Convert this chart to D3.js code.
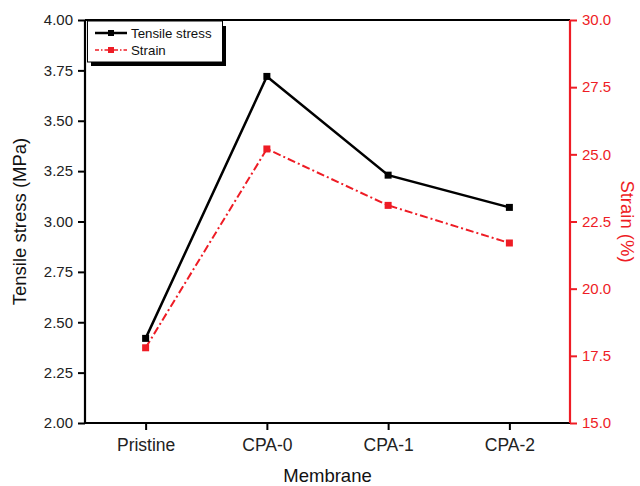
<!DOCTYPE html>
<html><head><meta charset="utf-8">
<script src="https://cdn.jsdelivr.net/npm/d3@7"></script>
<style>body{margin:0;background:#fff}svg{display:block}text{font-family:"Liberation Sans",Arial,sans-serif}</style>
</head><body>
<svg id="c" width="640" height="486"></svg>
<script>
const categories = ["Pristine","CPA-0","CPA-1","CPA-2"];
const tensileStress = [2.42, 3.72, 3.23, 3.07];
const strain = [17.8, 25.2, 23.1, 21.7];
const leftTicks = [2.00,2.25,2.50,2.75,3.00,3.25,3.50,3.75,4.00];
const rightTicks = [15.0,17.5,20.0,22.5,25.0,27.5,30.0];
const seriesNames = ["Tensile stress","Strain"];

const svg = d3.select("#c");
const L=85, R=570, T=20, B=423;
const x = d3.scalePoint().domain(categories).range([L,R]).padding(0.5);
const yL = d3.scaleLinear().domain([2,4]).range([B,T]);
const yR = d3.scaleLinear().domain([15,30]).range([B,T]);
const red = "#ee1c25";

// top frame
svg.append("line").attr("x1",L).attr("x2",R).attr("y1",T).attr("y2",T).attr("stroke","#000").attr("stroke-width",2);

const gl = svg.append("g").attr("transform",`translate(${L},0)`)
  .call(d3.axisLeft(yL).tickValues(leftTicks).tickFormat(d3.format(".2f")).tickSize(7).tickPadding(5));
const gb = svg.append("g").attr("transform",`translate(0,${B})`)
  .call(d3.axisBottom(x).tickSize(7).tickPadding(9));
const gr = svg.append("g").attr("transform",`translate(${R},0)`)
  .call(d3.axisRight(yR).tickValues(rightTicks).tickFormat(d3.format(".1f")).tickSize(7).tickPadding(5));

[gl,gb].forEach(g=>{
  g.select(".domain").attr("stroke","#000").attr("stroke-width",2.2);
  g.selectAll(".tick line").attr("stroke","#000").attr("stroke-width",2);
  g.selectAll(".tick text").attr("fill","#222").style("font-size","15px");
});
gb.selectAll(".tick text").style("font-size","17.5px");
gl.select(".domain").attr("d",`M-0,${B}V${T}`);
gb.select(".domain").attr("d",`M${L},0H${R}`);
gr.select(".domain").attr("stroke",red).attr("stroke-width",2.2).attr("d",`M0,${B}V${T}`);
gr.selectAll(".tick line").attr("stroke",red).attr("stroke-width",2);
gr.selectAll(".tick text").attr("fill",red).style("font-size","15px");

// axis titles
svg.append("text").attr("transform",`translate(26,${(T+B)/2}) rotate(-90)`).attr("text-anchor","middle")
  .style("font-size","18.5px").attr("fill","#111").text("Tensile stress (MPa)");
svg.append("text").attr("x",(L+R)/2).attr("y",482).attr("text-anchor","middle")
  .style("font-size","18.5px").attr("fill","#111").text("Membrane");
svg.append("text").attr("transform",`translate(621,${(T+B)/2}) rotate(90)`).attr("text-anchor","middle")
  .style("font-size","18.5px").attr("fill",red).text("Strain (%)");

// series
const lineL = d3.line().x((d,i)=>x(categories[i])).y(d=>yL(d));
const lineR = d3.line().x((d,i)=>x(categories[i])).y(d=>yR(d));
svg.append("path").attr("d",lineL(tensileStress)).attr("fill","none").attr("stroke","#000").attr("stroke-width",2.5);
svg.append("path").attr("d",lineR(strain)).attr("fill","none").attr("stroke",red).attr("stroke-width",2)
  .attr("stroke-dasharray","8,3,2,3");
const ms=7;
svg.selectAll(".mL").data(tensileStress).enter().append("rect")
  .attr("x",(d,i)=>x(categories[i])-ms/2).attr("y",d=>yL(d)-ms/2).attr("width",ms).attr("height",ms).attr("fill","#000");
svg.selectAll(".mR").data(strain).enter().append("rect")
  .attr("x",(d,i)=>x(categories[i])-ms/2).attr("y",d=>yR(d)-ms/2).attr("width",ms).attr("height",ms).attr("fill",red);

// legend
const lg = svg.append("g");
lg.append("rect").attr("x",91).attr("y",26).attr("width",135).attr("height",40).attr("fill","#000");
lg.append("rect").attr("x",87.5).attr("y",21).attr("width",135).attr("height",41).attr("fill","#fff").attr("stroke","#000").attr("stroke-width",1);
const items=[{n:seriesNames[0],c:"#000",dash:null,w:2.5,y:33},{n:seriesNames[1],c:red,dash:"4,2,1.5,2",w:1.5,y:50}];
items.forEach(it=>{
  lg.append("line").attr("x1",95).attr("x2",127).attr("y1",it.y).attr("y2",it.y).attr("stroke",it.c).attr("stroke-width",it.w)
    .attr("stroke-dasharray",it.dash);
  lg.append("rect").attr("x",108).attr("y",it.y-3).attr("width",6).attr("height",6).attr("fill",it.c);
  lg.append("text").attr("x",131).attr("y",it.y+4.5).style("font-size","13.3px").attr("fill","#111").text(it.n);
});
</script>
</body></html>
